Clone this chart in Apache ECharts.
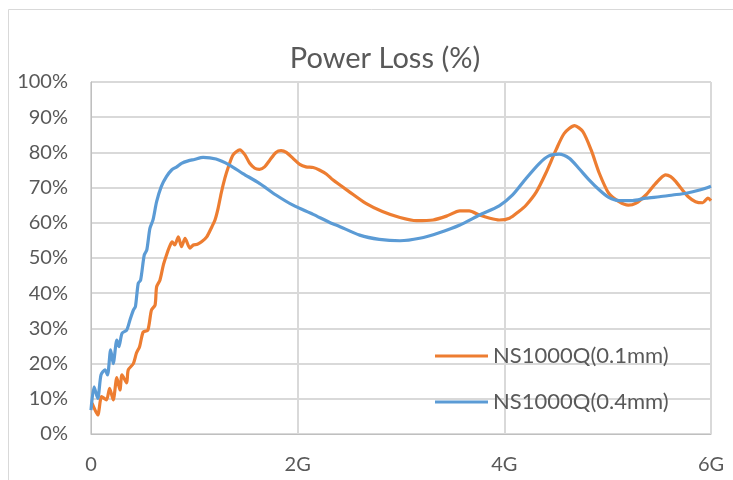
<!DOCTYPE html>
<html>
<head>
<meta charset="utf-8">
<script src="https://cdn.jsdelivr.net/npm/echarts@6/dist/echarts.min.js"></script>
<style>
html,body{margin:0;padding:0;background:#fff;}
#chart{width:733px;height:480px;}
</style>
</head>
<body>
<div id="chart"></div>
<script>
const titleText = 'Power Loss (%)';
const seriesNames = ['NS1000Q(0.1mm)', 'NS1000Q(0.4mm)'];
const xTickLabels = ['0', '2G', '4G', '6G'];
const yTickValues = [0,10,20,30,40,50,60,70,80,90,100];

// frequency in GHz, loss in %
const freqThin = [0.01, 0.065, 0.103, 0.15, 0.18, 0.215, 0.25, 0.28, 0.30, 0.345, 0.36, 0.41, 0.44, 0.47, 0.505, 0.55, 0.585, 0.62, 0.635, 0.667, 0.70, 0.73, 0.76, 0.785, 0.81, 0.845, 0.876, 0.91, 0.957, 0.99, 1.03, 1.07, 1.12, 1.17, 1.2, 1.23, 1.26, 1.295, 1.33, 1.375, 1.44, 1.49, 1.536, 1.585, 1.63, 1.68, 1.73, 1.79, 1.84, 1.89, 1.955, 2.02, 2.08, 2.15, 2.21, 2.28, 2.34, 2.5, 2.66, 2.82, 2.99, 3.15, 3.31, 3.44, 3.57, 3.66, 3.76, 3.86, 3.95, 4.05, 4.14, 4.21, 4.31, 4.40, 4.50, 4.58, 4.68, 4.76, 4.84, 4.92, 5.01, 5.11, 5.2, 5.27, 5.37, 5.45, 5.51, 5.56, 5.61, 5.66, 5.71, 5.78, 5.85, 5.92, 5.97, 6.0];
const lossThin = [8.8, 5.4, 10.6, 9.7, 13, 9.7, 16, 12.5, 16.8, 14.5, 18.2, 20, 23, 24.8, 29, 29.5, 35.2, 36.6, 41.8, 43.7, 48, 50.8, 53.2, 54.6, 53.7, 56, 53.2, 55.6, 52.8, 53.7, 53.9, 54.6, 56, 58.9, 60.8, 64.1, 68.4, 72.6, 75.9, 79.3, 80.7, 79.3, 76.9, 75.5, 75.2, 75.9, 77.8, 80, 80.5, 80, 78.3, 76.6, 75.9, 75.7, 75, 73.8, 72.2, 68.8, 65.5, 63.2, 61.5, 60.6, 60.8, 61.9, 63.4, 63.4, 62.2, 61.3, 60.8, 61.3, 63.2, 65, 68.8, 74, 80.7, 85.4, 87.6, 85.9, 80.7, 74, 68.4, 66, 65, 65.5, 67.9, 70.7, 72.6, 73.6, 73.1, 71.7, 69.8, 67.4, 66, 65.7, 67, 66.3];

const freqThick = [0, 0.03, 0.065, 0.097, 0.135, 0.16, 0.19, 0.215, 0.25, 0.27, 0.30, 0.345, 0.377, 0.41, 0.43, 0.457, 0.48, 0.515, 0.54, 0.57, 0.60, 0.635, 0.68, 0.73, 0.78, 0.83, 0.876, 0.94, 1.0, 1.085, 1.21, 1.34, 1.47, 1.63, 1.79, 1.955, 2.15, 2.31, 2.41, 2.6, 2.79, 2.99, 3.18, 3.37, 3.57, 3.76, 3.95, 4.08, 4.21, 4.34, 4.43, 4.53, 4.63, 4.72, 4.82, 4.92, 5.01, 5.11, 5.24, 5.37, 5.5, 5.63, 5.76, 5.89, 6.0];
const lossThick = [6.8, 13.4, 10.1, 16.8, 18.2, 16.8, 23.9, 20, 26.7, 24.8, 28.6, 29.5, 32.4, 35.2, 36.2, 42.8, 43.7, 50.8, 52.3, 58.4, 60.8, 66, 70.3, 73.1, 75, 75.9, 76.9, 77.6, 78, 78.6, 78.1, 76.4, 74, 71.2, 67.9, 65, 62.4, 60.1, 58.9, 56.5, 55.3, 54.9, 55.6, 57.2, 59.4, 62.2, 64.8, 67.9, 72.6, 76.9, 79, 79.5, 78.3, 75.5, 72.2, 69.3, 67.2, 66.3, 66.3, 67, 67.4, 67.9, 68.4, 69.3, 70.4];

const pair = (xs, ys) => xs.map((x, i) => [x, ys[i]]);

const FONT = 'Lato';
const TXT = '#595959';
const chart = echarts.init(document.getElementById('chart'), null, {renderer: 'canvas'});
chart.setOption({
  animation: false,
  backgroundColor: '#fff',
  graphic: [{
    type: 'rect', silent: true, z: -1,
    shape: {x: 8.5, y: 9.5, width: 1000, height: 1000},
    style: {fill: 'none', stroke: '#d9d9d9', lineWidth: 1}
  }],
  title: {
    text: titleText, left: 380, top: 39, textAlign: 'center',
    textStyle: {fontFamily: FONT, fontSize: 29, fontWeight: 'normal', color: TXT}
  },
  grid: {left: 91, right: 22, top: 82, bottom: 46, containLabel: false},
  legend: {
    orient: 'vertical', left: 435, top: 345, itemGap: 24, padding: 0,
    itemWidth: 53, itemHeight: 3, icon: 'rect',
    textStyle: {fontFamily: FONT, fontSize: 22, color: TXT},
    data: seriesNames
  },
  xAxis: {
    type: 'value', min: 0, max: 6, interval: 2,
    axisLine: {show: true, lineStyle: {color: '#bfbfbf', width: 1}},
    axisTick: {show: false},
    splitLine: {show: true, lineStyle: {color: '#d9d9d9', width: 2}},
    axisLabel: {
      margin: 21, fontFamily: FONT, fontSize: 20, color: TXT,
      formatter: v => xTickLabels[Math.round(v / 2)]
    }
  },
  yAxis: {
    type: 'value', min: yTickValues[0], max: yTickValues[yTickValues.length - 1], interval: 10,
    axisLine: {show: true, lineStyle: {color: '#bfbfbf', width: 1}},
    axisTick: {show: false},
    splitLine: {show: true, lineStyle: {color: '#d9d9d9', width: 2}},
    axisLabel: {margin: 23, fontFamily: FONT, fontSize: 20, color: TXT, formatter: '{value}%'}
  },
  series: [
    {
      name: seriesNames[0], type: 'line', symbol: 'none', smooth: 0.25,
      data: pair(freqThin, lossThin),
      lineStyle: {color: '#ED7D31', width: 3.2}, itemStyle: {color: '#ED7D31'}
    },
    {
      name: seriesNames[1], type: 'line', symbol: 'none', smooth: 0.25,
      data: pair(freqThick, lossThick),
      lineStyle: {color: '#5B9BD5', width: 3.2}, itemStyle: {color: '#5B9BD5'}
    }
  ]
});
</script>
</body>
</html>
